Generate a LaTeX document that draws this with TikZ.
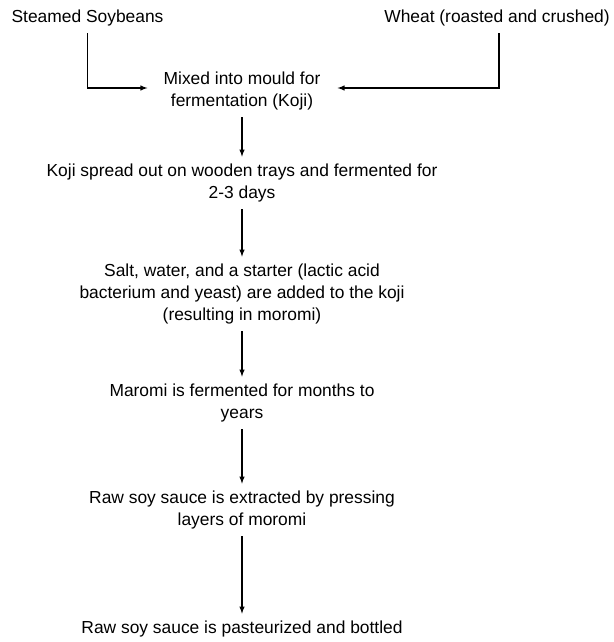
\documentclass[tikz,border=0pt]{standalone}
\usepackage{fontspec}
\setmainfont{Liberation Sans}
\usetikzlibrary{arrows}

\begin{document}
\begin{tikzpicture}[x=1pt, y=-1pt,
    stagetext/.style={align=center, font=\fontsize{17.4}{22}\selectfont, inner sep=2pt},
    flow/.style={line width = 0.5mm, -latex, shorten <=5pt, shorten >=5pt}]
\useasboundingbox (0,0) rectangle (613,642);
% ingredients
\node[stagetext] (soy) at (87.5,18) {Steamed Soybeans};
\node[stagetext] (wheat) at (497,18) {Wheat (roasted and crushed)};
% process steps
\node[stagetext] (mix) at (242,91) {Mixed into mould for\\fermentation (Koji)};
\node[stagetext] (koji) at (242,183) {Koji spread out on wooden trays and fermented for\\2-3 days};
\node[stagetext] (salt) at (242,294) {Salt, water, and a starter (lactic acid\\bacterium and yeast) are added to the koji\\(resulting in moromi)};
\node[stagetext] (maromi) at (242,403) {Maromi is fermented for months to\\years};
\node[stagetext] (press) at (242,510) {Raw soy sauce is extracted by pressing\\layers of moromi};
\node[stagetext] (bottle) at (242,629) {Raw soy sauce is pasteurized and bottled};
% draw connectors
\draw[flow, shorten >=14pt] (soy.south) |- ([yshift=3pt]mix.west);
\draw[flow, shorten >=15pt] ([xshift=2pt]wheat.south) |- ([yshift=3pt]mix.east);
\draw[flow] (mix.south) -- (koji.north);
\draw[flow] (koji.south) -- (salt.north);
\draw[flow] (salt.south) -- (maromi.north);
\draw[flow] (maromi.south) -- (press.north);
\draw[flow] (press.south) -- (bottle.north);
\end{tikzpicture}
\end{document}
